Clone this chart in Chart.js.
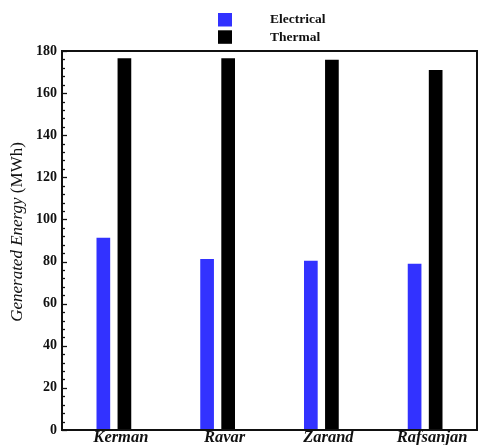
<!DOCTYPE html>
<html><head><meta charset="utf-8">
<script src="https://cdn.jsdelivr.net/npm/chart.js@4/dist/chart.umd.min.js"></script>
<style>html,body{margin:0;padding:0;background:#fff}#wrap{width:478px;height:445px;position:relative}</style>
</head><body><div id="wrap"><canvas id="c"></canvas></div>
<script>
const categories = ['Kerman', 'Ravar', 'Zarand', 'Rafsanjan'];
const electrical = [91.3, 81.2, 80.4, 79.0];
const thermal = [176.6, 176.6, 175.8, 171.0];
const seriesNames = ['Electrical', 'Thermal'];
const seriesColors = ['#3232FF', '#000000'];
const yMin = 0, yMax = 180, yStep = 20, yMinorPerMajor = 5;
const yTitleItalic = 'Generated Energy', yTitleUnit = '(MWh)';

const serif = '"Liberation Serif","Times New Roman",serif';

const framePlugin = {
  id: 'frame',
  afterDraw(chart) {
    const {ctx, chartArea: a, scales: {y}} = chart;
    ctx.save();
    ctx.strokeStyle = '#111';
    ctx.lineWidth = 2;
    ctx.strokeRect(a.left, a.top, a.right - a.left, a.bottom - a.top);
    ctx.lineWidth = 1.3;
    const minorStep = yStep / yMinorPerMajor;
    for (let v = yMin; v <= yMax + 1e-9; v += minorStep) {
      const py = Math.round(y.getPixelForValue(v)) + 0.5;
      const major = Math.abs(v / yStep - Math.round(v / yStep)) < 1e-6;
      ctx.beginPath();
      ctx.moveTo(a.left, py);
      ctx.lineTo(a.left + (major ? 5 : 3), py);
      ctx.stroke();
    }
    // y title with mixed styles
    ctx.fillStyle = '#111';
    ctx.textBaseline = 'middle';
    ctx.textAlign = 'left';
    const f1 = 'italic 17px ' + serif, f2 = '17px ' + serif;
    ctx.font = f1; const w1 = ctx.measureText(yTitleItalic + ' ').width;
    ctx.font = f2; const w2 = ctx.measureText(yTitleUnit).width;
    const tot = w1 + w2;
    ctx.translate(18, 232);
    ctx.rotate(-Math.PI / 2);
    ctx.font = f1; ctx.fillText(yTitleItalic + ' ', -tot / 2, 0);
    ctx.font = f2; ctx.fillText(yTitleUnit, -tot / 2 + w1, 0);
    ctx.restore();

    // legend
    ctx.save();
    chart.data.datasets.forEach((ds, i) => {
      const top = 13 + i * 17.3;
      ctx.fillStyle = ds.backgroundColor;
      ctx.fillRect(218, top, 14, 13.5);
      ctx.fillStyle = '#111';
      ctx.font = 'bold 13.5px ' + serif;
      ctx.textBaseline = 'middle';
      ctx.textAlign = 'left';
      ctx.fillText(ds.label, 270, top + 7);
    });
    ctx.restore();
  }
};

new Chart(document.getElementById('c'), {
  type: 'bar',
  data: {
    labels: categories,
    datasets: [
      {label: seriesNames[0], data: electrical, backgroundColor: seriesColors[0], borderWidth: 0},
      {label: seriesNames[1], data: thermal, backgroundColor: seriesColors[1], borderWidth: 0}
    ]
  },
  options: {
    responsive: true,
    maintainAspectRatio: false,
    animation: false,
    events: [],
    layout: {padding: {top: 51, right: 1, left: 0, bottom: 0}},
    datasets: {bar: {categoryPercentage: 0.406, barPercentage: 0.65}},
    plugins: {legend: {display: false}, tooltip: {enabled: false}},
    scales: {
      x: {
        grid: {display: false, drawTicks: false},
        border: {display: false},
        ticks: {color: '#111', padding: -2, labelOffset: 7, maxRotation: 0,
          font: {family: serif, size: 16.5, weight: 'bold', style: 'italic'}},
        afterFit(s) { s.height = 15; }
      },
      y: {
        min: yMin, max: yMax,
        grid: {display: false, drawTicks: false},
        border: {display: false},
        ticks: {stepSize: yStep, color: '#111', padding: 5,
          font: {family: serif, size: 14, weight: 'bold'}},
        afterFit(s) { s.width = 62; }
      }
    }
  },
  plugins: [framePlugin]
});
</script>
</body></html>
